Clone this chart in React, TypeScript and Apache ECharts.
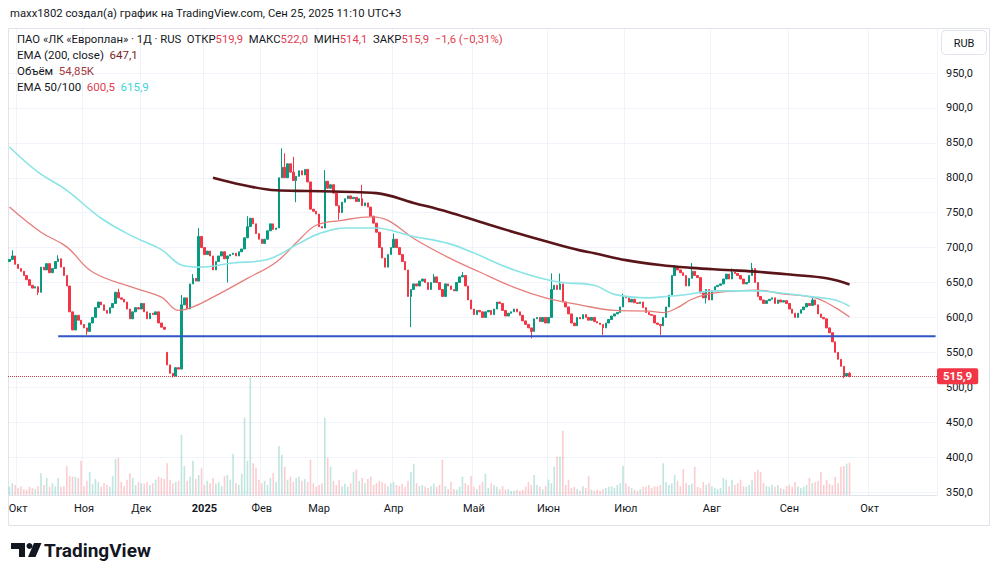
import React, { useEffect, useRef } from 'react';
import * as echarts from 'echarts';

// ---- Closes per month (RUB) ----
const sep24Close = [683, 688, 676];
const oct24Close = [670, 666, 660, 654, 646, 642, 644, 636, 672, 668, 677, 664, 670, 680, 684, 672, 660, 645, 608, 582, 603, 596, 590];
const nov24Close = [585, 580, 592, 600, 614, 622, 618, 610, 606, 614, 620, 636, 628, 626, 622, 612, 598, 608, 614, 612];
const dec24Close = [620, 608, 598, 606, 604, 608, 592, 586, 583, 532, 520, 516, 528, 526, 618, 628, 612, 648, 656, 652, 716, 700];
const jan25Close = [690, 695, 688, 668, 680, 688, 694, 684, 688, 690, 692, 688, 694, 698, 714, 730, 742, 734, 720, 712];
const feb25Close = [706, 712, 724, 734, 726, 728, 800, 815, 800, 820, 808, 796, 802, 810, 804, 812, 794, 755, 752, 748];
const mar25Close = [730, 728, 795, 785, 790, 778, 760, 750, 765, 770, 774, 770, 772, 766, 770, 760, 764, 758, 745, 735, 722, 700, 685, 672, 690, 700];
const apr25Close = [712, 700, 690, 680, 668, 630, 640, 648, 645, 652, 655, 650, 640, 650, 658, 650, 640, 630, 648, 645, 640, 638, 650, 658, 660, 645, 625, 612];
const may25Close = [604, 610, 608, 600, 608, 610, 604, 612, 622, 620, 610, 602, 606, 608, 612, 608, 603, 595, 590, 585, 580, 598, 600, 594, 600, 592];
const jun25Close = [600, 640, 646, 640, 648, 622, 615, 605, 592, 588, 600, 598, 604, 600, 596, 600, 594, 592, 590, 585, 592, 597, 602, 605, 607, 615, 630];
const jul25Close = [628, 622, 626, 621, 620, 622, 614, 607, 604, 603, 592, 590, 588, 600, 615, 632, 660, 672, 668, 664, 660, 645, 656, 666, 660, 657, 635, 628, 640, 625];
const aug25Close = [638, 644, 646, 648, 655, 662, 655, 665, 663, 660, 655, 648, 650, 660, 670, 650, 630, 625, 620, 624, 626, 628, 620, 625, 622, 624, 620];
const sep25Close = [612, 606, 600, 606, 611, 615, 620, 617, 625, 618, 605, 600, 598, 585, 578, 565, 550, 540, 530, 516, 519.9, 515.9];

// ---- Volumes per month (thousands) ----
const sep24Vol = [14, 20, 17];
const oct24Vol = [12, 15, 10, 9, 14, 12, 10, 15, 37, 17, 29, 14, 20, 15, 29, 14, 15, 49, 32, 31, 31, 29, 58];
const nov24Vol = [15, 24, 39, 19, 27, 22, 14, 20, 17, 14, 32, 61, 63, 22, 15, 26, 37, 29, 17, 22];
const dec24Vol = [20, 19, 22, 17, 20, 26, 31, 29, 27, 54, 26, 20, 22, 24, 102, 49, 24, 31, 58, 27, 34, 46];
const jan25Vol = [17, 24, 20, 29, 19, 22, 15, 32, 34, 26, 70, 20, 17, 36, 131, 58, 199, 54, 46, 26];
const feb25Vol = [20, 24, 17, 29, 37, 22, 83, 68, 48, 26, 31, 22, 29, 31, 24, 27, 22, 60, 20, 14];
const mar25Vol = [17, 20, 131, 63, 48, 24, 17, 26, 15, 19, 14, 20, 39, 43, 24, 29, 20, 27, 31, 17, 20, 24, 22, 19, 15, 20];
const apr25Vol = [22, 17, 15, 19, 14, 24, 39, 53, 20, 15, 17, 14, 12, 15, 19, 14, 17, 60, 15, 10, 22, 10, 9, 14, 31, 20, 17, 32];
const may25Vol = [14, 10, 17, 22, 36, 12, 20, 17, 14, 10, 15, 9, 10, 7, 7, 9, 7, 9, 14, 22, 17, 34, 17, 14, 10, 15];
const jun25Vol = [26, 20, 48, 65, 65, 109, 17, 26, 12, 14, 10, 7, 15, 12, 32, 9, 7, 9, 7, 10, 12, 14, 15, 12, 17, 20, 49];
const jul25Vol = [20, 15, 12, 9, 7, 10, 14, 14, 17, 12, 15, 14, 17, 54, 22, 17, 20, 34, 24, 15, 44, 20, 17, 19, 48, 14, 12, 22, 17, 20];
const aug25Vol = [15, 12, 10, 12, 29, 26, 15, 26, 17, 20, 26, 15, 14, 17, 26, 39, 43, 39, 20, 15, 14, 17, 14, 17, 12, 10, 15];
const sep25Vol = [17, 14, 22, 15, 12, 14, 17, 29, 20, 22, 24, 39, 17, 26, 19, 17, 31, 20, 48, 49, 53, 54.85];

// first bar open and gap opens [barIndex, open]
const firstOpen = 680;
const gapOpens: [number, number][] = [[55, 550]];
// notable wicks [barIndex, high, low]
const wicks: [number, number | null, number | null][] = [
  [1, 696, null], [10, null, 632], [17, 689, null], [27, null, 575], [38, 641, null], [57, null, 514],
  [60, 632, null], [64, 662, null], [66, 728, null], [76, null, 650], [83, 745, null], [95, 842, null],
  [96, 835, null], [99, 830, null], [100, null, 765], [110, 811, null], [115, null, 740], [123, 790, null],
  [134, 720, null], [140, null, 586], [148, 662, null], [158, 665, null], [182, null, 570], [189, 663, null],
  [192, 663, null], [207, null, 575], [214, 634, null], [227, null, 575], [232, 675, null], [238, 678, null],
  [243, null, 620], [252, 670, null], [259, 678, null], [280, 629, null], [291, null, 513], [293, 522, 514.1],
];

// EMA readings [barIndex, value]
const ema50Points: [number, number][] = [
  [0, 758], [11, 722], [20, 701], [29, 665], [43, 643], [53, 629], [59, 610], [64, 615], [71, 629], [83, 656],
  [93, 679], [101, 711], [107, 732], [116, 739], [126, 744], [132, 739], [141, 713], [153, 686], [164, 665],
  [176, 643], [187, 628], [199, 618], [211, 610], [223, 609], [228, 607], [233, 614], [238, 626], [246, 635],
  [261, 639], [269, 634], [281, 628], [288, 614], [293, 600.5],
];
const ema100Points: [number, number][] = [
  [0, 844], [10, 808], [20, 782], [32, 742], [43, 716], [53, 697], [60, 675], [66, 672], [78, 678], [90, 683],
  [101, 706], [108, 720], [118, 728], [127, 728], [141, 716], [153, 706], [161, 694], [176, 668], [191, 651],
  [204, 646], [211, 633], [223, 628], [229, 630], [235, 632], [246, 638], [261, 638], [269, 635], [281, 629],
  [288, 625], [293, 615.9],
];
const ema200Points: [number, number][] = [
  [71, 800], [81, 790], [93, 782], [104, 781], [116, 780], [128, 778], [141, 764], [153, 751], [164, 737],
  [176, 722], [188, 708], [199, 696], [204, 692], [215, 682], [227, 675], [238, 671], [250, 668], [262, 665],
  [273, 661], [285, 656], [293, 647.1],
];
const supportLevel = 573;
const supportStart = 17;
const lastPrice = 515.9;

// axis
const monthStart = [3, 26, 46, 68, 88, 108, 134, 162, 188, 215, 245, 272, 300];
const monthLabel = ['Окт', 'Ноя', 'Дек', '2025', 'Фев', 'Мар', 'Апр', 'Май', 'Июн', 'Июл', 'Авг', 'Сен', 'Окт'];
const priceTicks = { min: 350, max: 950, interval: 50 };
const slotCount = 324;

const closes = [
  ...sep24Close, ...oct24Close, ...nov24Close, ...dec24Close, ...jan25Close, ...feb25Close, ...mar25Close,
  ...apr25Close, ...may25Close, ...jun25Close, ...jul25Close, ...aug25Close, ...sep25Close,
];
const volumes = [
  ...sep24Vol, ...oct24Vol, ...nov24Vol, ...dec24Vol, ...jan25Vol, ...feb25Vol, ...mar25Vol,
  ...apr25Vol, ...may25Vol, ...jun25Vol, ...jul25Vol, ...aug25Vol, ...sep25Vol,
];

const UP = '#089981';
const DOWN = '#f23645';
const FONT = 'Roboto, "Noto Sans", sans-serif';
const TXT = '#131722';

function buildOption() {
  const gapMap = new Map(gapOpens);
  const wickMap = new Map(wicks.map((w) => [w[0], w]));
  const candles = closes.map((c, i) => {
    const o = gapMap.has(i) ? (gapMap.get(i) as number) : i === 0 ? firstOpen : closes[i - 1];
    let h = Math.max(o, c);
    let l = Math.min(o, c);
    const w = wickMap.get(i);
    if (w) {
      if (w[1] != null) h = w[1];
      if (w[2] != null) l = w[2];
    }
    return [o, c, l, h];
  });
  const volData = volumes.map((v, i) => ({
    value: v,
    itemStyle: { color: candles[i][1] >= candles[i][0] ? 'rgba(8,153,129,0.25)' : 'rgba(242,54,69,0.25)' },
  }));
  const cats = Array.from({ length: slotCount }, (_, i) => String(i));
  const isMonth = (idx: number) => monthStart.indexOf(idx) >= 0;

  return {
    animation: false,
    backgroundColor: '#ffffff',
    textStyle: { fontFamily: FONT },
    grid: [
      { left: 8, width: 929, top: 73, height: 419 },
      { left: 8, width: 929, top: 29, height: 466 },
    ],
    xAxis: [
      { type: 'category', gridIndex: 0, data: cats, show: false },
      {
        type: 'category', gridIndex: 1, data: cats,
        axisLine: { show: true, lineStyle: { color: '#e0e3eb' } },
        axisTick: { show: false },
        axisLabel: {
          interval: (idx: number) => isMonth(idx),
          formatter: (_v: string, idx: number) => {
            const k = monthStart.indexOf(idx);
            if (k < 0) return '';
            return monthLabel[k] === '2025' ? '{b|2025}' : monthLabel[k];
          },
          rich: { b: { fontWeight: 'bold', fontSize: 11, color: TXT, fontFamily: FONT } },
          color: TXT, fontSize: 11, margin: 8, fontFamily: FONT,
        },
        splitLine: { show: true, interval: (idx: number) => isMonth(idx), lineStyle: { color: '#f0f3fa', width: 1 } },
      },
    ],
    yAxis: [
      {
        type: 'value', gridIndex: 0, position: 'right', ...priceTicks,
        axisLine: { show: false }, axisTick: { show: false },
        axisLabel: {
          formatter: (v: number) => v.toFixed(1).replace('.', ','),
          color: TXT, fontSize: 11, margin: 9, fontFamily: FONT,
        },
        splitLine: { lineStyle: { color: '#f0f3fa', width: 1 } },
      },
      { type: 'value', gridIndex: 1, min: 0, max: 790, show: false, splitLine: { show: false } },
    ],
    series: [
      {
        type: 'bar', xAxisIndex: 1, yAxisIndex: 1, data: volData, barWidth: 1.6, silent: true,
      },
      {
        type: 'line', xAxisIndex: 0, yAxisIndex: 0, data: ema50Points, smooth: 0.4, showSymbol: false,
        lineStyle: { color: '#e57f7b', width: 1.3 }, silent: true,
      },
      {
        type: 'line', xAxisIndex: 0, yAxisIndex: 0, data: ema100Points, smooth: 0.4, showSymbol: false,
        lineStyle: { color: '#8ae4e6', width: 1.6 }, silent: true,
      },
      {
        type: 'line', xAxisIndex: 0, yAxisIndex: 0, data: ema200Points, smooth: 0.4, showSymbol: false,
        lineStyle: { color: '#5a1519', width: 2.6 }, silent: true,
      },
      {
        type: 'line', xAxisIndex: 0, yAxisIndex: 0,
        data: [[supportStart, supportLevel], [slotCount - 1, supportLevel]],
        showSymbol: false, lineStyle: { color: '#2f56c6', width: 2.2 }, silent: true,
      },
      {
        type: 'candlestick', xAxisIndex: 0, yAxisIndex: 0, data: candles, barWidth: '70%',
        itemStyle: { color: UP, color0: DOWN, borderColor: UP, borderColor0: DOWN, borderWidth: 1 },
        markLine: {
          silent: true, symbol: ['none', 'none'],
          data: [{ yAxis: lastPrice }],
          lineStyle: { color: '#c2404c', type: 'dotted', width: 1 },
          label: {
            show: true, position: 'end', distance: 0,
            formatter: () => lastPrice.toFixed(1).replace('.', ','),
            backgroundColor: DOWN, color: '#ffffff', padding: [2, 6, 1, 6], lineHeight: 13,
            fontSize: 11.5, fontWeight: 'bold', fontFamily: FONT, borderRadius: 2,
          },
        },
      },
    ],
    graphic: [
      {
        type: 'rect', silent: true, z: 1,
        shape: { x: 8.5, y: 28.5, width: 981, height: 497 },
        style: { fill: 'none', stroke: '#e0e3eb', lineWidth: 1 },
      },
      {
        type: 'text', x: 10, y: 13, z: 100,
        style: { text: 'maxx1802 создал(а) график на TradingView.com, Сен 25, 2025 11:10 UTC+3', fill: TXT, fontSize: 11.3, fontFamily: FONT, verticalAlign: 'middle' },
      },
      {
        type: 'text', x: 17, y: 39, z: 100,
        style: {
          text: 'ПАО «ЛК «Европлан» · 1Д · RUS  ОТКР{r|519,9}  МАКС{r|522,0}  МИН{r|514,1}  ЗАКР{r|515,9}  {r|−1,6 (−0,31%)}',
          fill: TXT, fontSize: 11.3, fontFamily: FONT, verticalAlign: 'middle',
          rich: { r: { fill: '#e0404f', fontSize: 11.3, fontFamily: FONT } },
        },
      },
      {
        type: 'text', x: 17, y: 55, z: 100,
        style: {
          text: 'EMA (200, close)  {m|647,1}', fill: TXT, fontSize: 11.5, fontFamily: FONT, verticalAlign: 'middle',
          rich: { m: { fill: '#7a1f26', fontSize: 11.5, fontFamily: FONT } },
        },
      },
      {
        type: 'text', x: 17, y: 71, z: 100,
        style: {
          text: 'Объём  {v|54,85K}', fill: TXT, fontSize: 11.5, fontFamily: FONT, verticalAlign: 'middle',
          rich: { v: { fill: '#a33a3e', fontSize: 11.5, fontFamily: FONT } },
        },
      },
      {
        type: 'text', x: 17, y: 87, z: 100,
        style: {
          text: 'EMA 50/100  {r|600,5}  {c|615,9}', fill: TXT, fontSize: 11.5, fontFamily: FONT, verticalAlign: 'middle',
          rich: {
            r: { fill: '#e0404f', fontSize: 11.5, fontFamily: FONT },
            c: { fill: '#3ed3da', fontSize: 11.5, fontFamily: FONT },
          },
        },
      },
      {
        type: 'rect', z: 100, shape: { x: 941.5, y: 30.5, width: 45, height: 24, r: 4 },
        style: { fill: '#ffffff', stroke: '#e0e3eb', lineWidth: 1 },
      },
      {
        type: 'text', x: 964, y: 43, z: 101,
        style: { text: 'RUB', fill: TXT, fontSize: 11, fontFamily: FONT, align: 'center', verticalAlign: 'middle' },
      },
      {
        type: 'polygon', z: 100,
        shape: { points: [[11, 543], [25, 543], [25, 557], [19, 557], [19, 549], [11, 549]] },
        style: { fill: TXT },
      },
      { type: 'circle', z: 100, shape: { cx: 29.5, cy: 546, r: 3 }, style: { fill: TXT } },
      {
        type: 'polygon', z: 100,
        shape: { points: [[34, 543], [41.5, 543], [35.5, 557], [28, 557]] },
        style: { fill: TXT },
      },
      {
        type: 'text', x: 44, y: 550, z: 100,
        style: { text: 'TradingView', fill: TXT, fontSize: 19, fontWeight: 'bold', fontFamily: FONT, verticalAlign: 'middle' },
      },
    ],
  };
}

export default function App() {
  const ref = useRef<HTMLDivElement>(null);
  useEffect(() => {
    if (!ref.current) return;
    const chart = echarts.init(ref.current, null, { renderer: 'svg' });
    chart.setOption(buildOption() as any);
    return () => chart.dispose();
  }, []);
  return (
    <div
      ref={ref}
      style={{ position: 'fixed', left: 0, top: 0, width: 1000, height: 578, background: '#ffffff' }}
    />
  );
}
